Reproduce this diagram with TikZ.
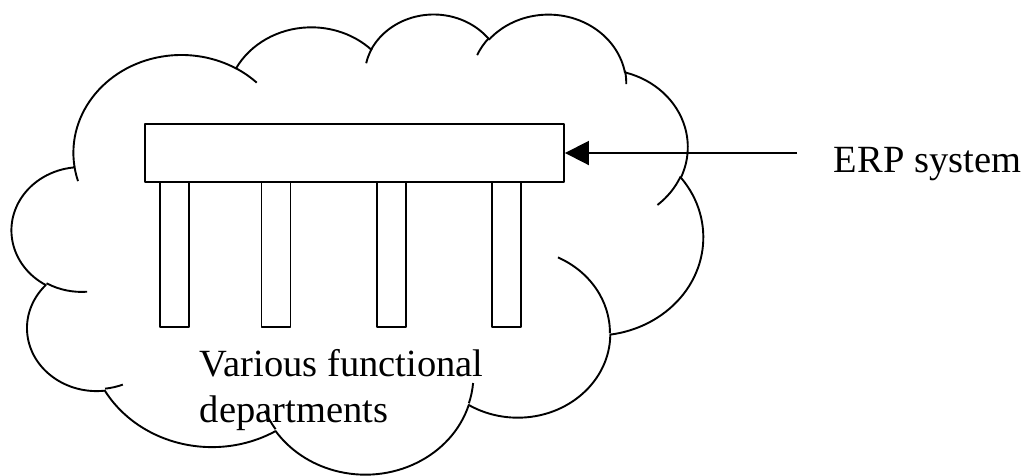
\documentclass[tikz,border=0pt]{standalone}
\usepackage{fontspec}
\setmainfont{Liberation Serif}
\usetikzlibrary{arrows.meta}

% Elliptical arc continuing from the current point, in the style of an
% arcTo command: #1,#2 = radii, #3 = start angle, #4 = sweep (visual angles).
\newcommand\cloudarc[4]{arc[x radius=#1, y radius=#2,
  start angle={atan2((#1)*sin(#3),(#2)*cos(#3))},
  delta angle={mod(atan2((#1)*sin((#3)+(#4)),(#2)*cos((#3)+(#4)))-atan2((#1)*sin(#3),(#2)*cos(#3))+720,360)}]}

\begin{document}
\begin{tikzpicture}[x=1pt, y=1pt, line width=1.9pt, line join=round,
  barbox/.style={draw, line width=1.9pt, inner sep=0pt, minimum width=419pt, minimum height=58pt},
  legbox/.style={draw, line width=1.9pt, inner sep=0pt, minimum width=29pt, minimum height=145pt},
  caption/.style={inner sep=0pt, anchor=base west, font=\fontsize{38.5}{46}\selectfont}]
\begin{scope}[yscale=-1]
\useasboundingbox (0,0) rectangle (1022,475);

% cloud outline (4320 x 4320 shape space)
\begin{scope}[shift={(12,13)}, xscale=0.159954, yscale=0.106481]
\draw (390,1437)
  \cloudarc{675.3}{919.0}{-190.4875}{123.7805}
  \cloudarc{533.3}{726.7}{-144.1024}{89.9452}
  \cloudarc{436.5}{594.5}{-145.8079}{99.7230}
  \cloudarc{485.7}{659.5}{-130.9861}{117.2417}
  \cloudarc{533.3}{727.3}{-78.7089}{109.0269}
  \cloudarc{677.5}{922.0}{-46.2673}{130.2690}
  \cloudarc{578.5}{786.7}{0.6250}{114.0333}
  \cloudarc{675.2}{921.5}{22.4516}{115.1726}
  \cloudarc{772.0}{1054.3}{66.2426}{75.7110}
  \cloudarc{436.0}{591.8}{-274.9421}{146.7356}
  \cloudarc{434.5}{594.5}{-246.8285}{152.5189}
  -- cycle;
% short inner strokes of the lobes
\draw (469.3,2617.7) \cloudarc{434.5}{594.5}{86.7420}{26.4295}
      (692.8,3489.9) \cloudarc{436.0}{591.8}{73.6105}{11.4475}
      (1647.8,3909.0) \cloudarc{675.2}{921.5}{137.6242}{14.0811}
      (2882.7,3475.1) \cloudarc{675.2}{921.5}{6.4533}{15.9984}
      (3412.9,2295.4) \cloudarc{578.5}{786.7}{-70.2924}{70.9174}
      (4179.8,1535.4) \cloudarc{533.3}{727.3}{30.3180}{27.7515}
      (3832.4,542.6) \cloudarc{485.7}{659.5}{-13.7443}{14.8589}
      (2907.8,395.2) \cloudarc{485.7}{659.5}{-149.1815}{18.1954}
      (2214.1,472.0) \cloudarc{436.5}{594.5}{-163.4943}{17.6864}
      (1400.0,519.2) \cloudarc{675.3}{919.0}{-66.7070}{12.3194}
      (412.7,1578.9) \cloudarc{675.3}{919.0}{157.6544}{11.8582};
\end{scope}

% ERP bar and the departments under it
\node[barbox] (bar) at (354.5,153) {};
\node[legbox] (leg1) at (174.5,254.5) {};
\node[legbox] (leg2) at (276,254.5) {};
\node[legbox] (leg3) at (391.5,254.5) {};
\node[legbox] (leg4) at (506.5,254.5) {};

\coordinate (erpstart) at (797,153);
\draw[-{Triangle[length=24pt,width=24pt]}] (erpstart) -- (bar.east);

\node[caption] (erp) at (833,172) {ERP system};
\node[caption] (dep1) at (199,376) {Various functional};
\node[caption] (dep2) at (199,422) {departments};
\end{scope}
\end{tikzpicture}
\end{document}
